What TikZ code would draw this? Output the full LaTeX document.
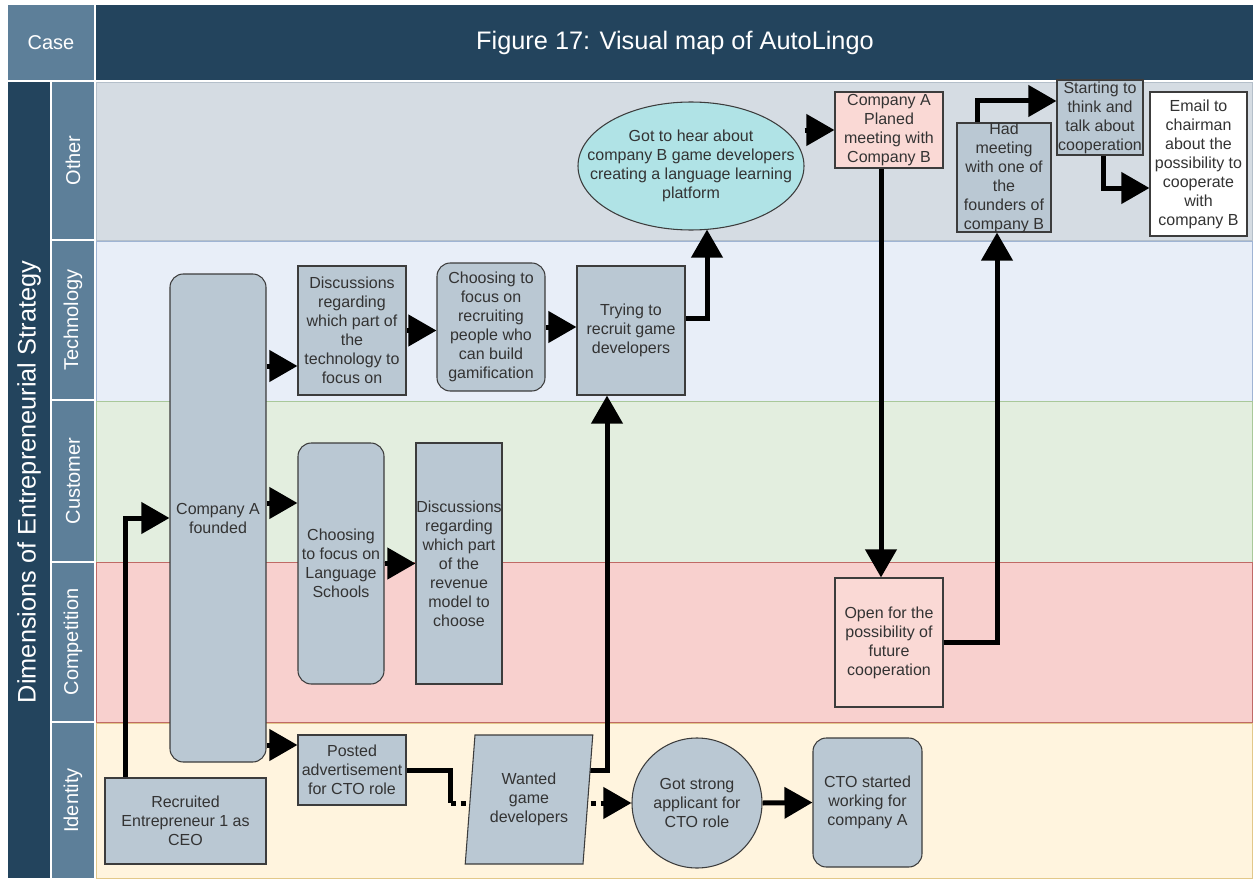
\documentclass[tikz,border=0pt]{standalone}
\usepackage{fontspec}
\setmainfont{Liberation Sans}
\usetikzlibrary{arrows.meta,shapes.geometric}
\pgfdeclarelayer{bg}
\pgfdeclarelayer{edges}
\pgfsetlayers{bg,edges,main}
\newcommand\pxu{0.75pt}
\definecolor{navy}{HTML}{23445D}
\definecolor{steel}{HTML}{5D7F99}
\definecolor{laneO}{HTML}{D5DCE3}
\definecolor{laneOb}{HTML}{B4BFCA}
\definecolor{laneT}{HTML}{E8EEF8}
\definecolor{laneTb}{HTML}{9FB4D4}
\definecolor{laneC}{HTML}{E3EEDF}
\definecolor{laneCb}{HTML}{A9C89A}
\definecolor{laneP}{HTML}{F8D0CE}
\definecolor{lanePb}{HTML}{C06A66}
\definecolor{laneI}{HTML}{FFF4DE}
\definecolor{laneIb}{HTML}{E2C88A}
\definecolor{nodefill}{HTML}{BAC8D3}
\definecolor{cyanfill}{HTML}{B0E3E6}
\definecolor{pinkfill}{HTML}{FAD9D5}
\definecolor{txt}{HTML}{333333}
\definecolor{edgecol}{HTML}{3C3C3C}
\begin{document}
\begin{tikzpicture}[x=0.75pt,y=-0.75pt,
  wh/.style 2 args={minimum width=#1*\pxu, minimum height=#2*\pxu},
  nfont/.style={font=\fontsize{12pt}{14.25pt}\selectfont},
  base/.style={draw=edgecol, line width=0.8pt, text=txt, align=center, inner sep=1pt, nfont},
  sqbox/.style={base, rectangle, fill=nodefill},
  rbox/.style={base, rectangle, rounded corners=10pt, fill=nodefill},
  lbl/.style={text=txt, align=center, inner sep=0pt, nfont},
  lanelbl/.style={text=white, rotate=90, font=\fontsize{15pt}{18pt}\selectfont},
  arr/.style={draw=black, line width=3.75pt, -{Triangle[length=21pt,width=23pt]}},
  ln/.style={draw=black, line width=3.75pt},
]
\begin{pgfonlayer}{bg}
  \fill[white] (0,0) rectangle (1253,881);
  \fill[steel] (8,5) rectangle (94,80);
  \fill[navy] (96,5) rectangle (1253,80);
  \fill[navy] (8,82) rectangle (50,878);
  \fill[steel] (52,82) rectangle (94,239);
  \fill[steel] (52,241) rectangle (94,399);
  \fill[steel] (52,401) rectangle (94,561);
  \fill[steel] (52,563) rectangle (94,721);
  \fill[steel] (52,723) rectangle (94,878);
  \filldraw[fill=laneO, draw=laneOb, line width=0.7pt] (96,82) rectangle (1252,240);
  \filldraw[fill=laneT, draw=laneTb, line width=0.7pt] (96,241) rectangle (1252,401);
  \filldraw[fill=laneC, draw=laneCb, line width=0.7pt] (96,401) rectangle (1252,562);
  \filldraw[fill=laneP, draw=lanePb, line width=0.7pt] (96,562) rectangle (1252,722);
  \filldraw[fill=laneI, draw=laneIb, line width=0.7pt] (96,723) rectangle (1252,878);
\end{pgfonlayer}
\node[text=white, font=\fontsize{15pt}{18pt}\selectfont] (caselbl) at (51,42.5) {Case};
\node[text=white, font=\fontsize{19pt}{22pt}\selectfont] (title) at (675,42.5) {Figure 17: Visual map of AutoLingo};
\node[text=white, rotate=90, font=\fontsize{19pt}{22pt}\selectfont] (dims) at (29,482) {Dimensions of Entrepreneurial Strategy};
\node[lanelbl] (lo) at (73,160.5) {Other};
\node[lanelbl] (lt) at (73,320) {Technology};
\node[lanelbl] (lc) at (73,481) {Customer};
\node[lanelbl] (lp) at (73,642) {Competition};
\node[lanelbl] (li) at (73,800.5) {Identity};

\node[rbox, wh={96}{488}] (compA) at (218,518) {Company A\\founded};
\node[sqbox, wh={161}{86}] (recr) at (185.5,821) {Recruited\\Entrepreneur 1 as\\CEO};
\node[sqbox, wh={108}{129}] (discT) at (352,330.5) {Discussions\\regarding\\which part of\\the\\technology to\\focus on};
\node[rbox, wh={108}{128}] (chooseR) at (491,327) {Choosing to\\focus on\\recruiting\\people who\\can build\\gamification};
\node[sqbox, wh={108}{129}] (trying) at (631,330.5) {Trying to\\recruit game\\developers};
\node[rbox, wh={86}{241}] (chooseLS) at (341,563.5) {Choosing\\to focus on\\Language\\Schools};
\node[sqbox, wh={86}{241}, inner xsep=0pt] (discR) at (459,563.5) {Discussions\\regarding\\which part\\of the\\revenue\\model to\\choose};
\node[sqbox, wh={108}{70}] (posted) at (352,770) {Posted\\advertisement\\for CTO role};
\node[base, trapezium, trapezium left angle=82.5, trapezium right angle=97.5, trapezium stretches=true, fill=nodefill, wh={128}{129}] (wanted) at (529,799.5) {Wanted\\game\\developers};
\node[base, circle, fill=nodefill, minimum size=130*\pxu, inner sep=0pt] (strong) at (697,803) {Got strong\\applicant for\\CTO role};
\node[rbox, wh={109}{129}] (cto) at (867.5,802.5) {CTO started\\working for\\company A};
\node[base, ellipse, fill=cyanfill, wh={226}{128}, inner sep=0pt, label={[lbl]center:Got to hear about\\company B game developers\\creating a language learning\\platform}] (hear) at (691,166) {};
\node[sqbox, fill=pinkfill, wh={108}{76}, inner ysep=0pt] (planned) at (889,130) {Company A\\Planed\\meeting with\\Company B};
\node[sqbox, wh={94}{109}, label={[lbl]center:Had\\meeting\\with one of\\the\\founders of\\company B}] (had) at (1004,177.5) {};
\node[sqbox, wh={86}{75}, inner sep=0.3pt] (start) at (1100,117.5) {Starting to\\think and\\talk about\\cooperation};
\node[sqbox, fill=white, wh={97}{144}] (email) at (1198.5,164) {Email to\\chairman\\about the\\possibility to\\cooperate\\with\\company B};
\node[sqbox, fill=pinkfill, wh={108}{129}] (open) at (889,642.5) {Open for the\\possibility of\\future\\cooperation};

\coordinate (a1) at ([xshift=21*\pxu]recr.north west);
\coordinate (b1) at ([yshift=-35.5*\pxu]discT.west);
\coordinate (c1) at ([yshift=60.5*\pxu]chooseLS.west);
\coordinate (d1) at ([yshift=25*\pxu]posted.west);
\coordinate (h1) at ([xshift=44*\pxu]posted.east);
\coordinate (h2) at (h1 |- strong.west);
\coordinate (i0) at ([yshift=29.5*\pxu]wanted.east);
\coordinate (i1) at ([xshift=-24*\pxu]trying.south);
\coordinate (j0) at ([yshift=12.5*\pxu]trying.east);
\coordinate (j1) at ([xshift=16*\pxu, yshift=1*\pxu]hear.south);
\coordinate (l1) at ([xshift=-8*\pxu]planned.south);
\coordinate (m1) at ([xshift=-7*\pxu]had.south);
\coordinate (n1) at ([xshift=-27*\pxu]had.north);
\coordinate (n2) at ([yshift=16.5*\pxu]start.west);
\coordinate (o0) at ([xshift=3*\pxu]start.south);
\coordinate (o1) at ([yshift=-24*\pxu]email.west);

\begin{pgfonlayer}{edges}
  \draw[arr] (a1) |- (compA.west);
  \draw[arr] (compA.east |- b1) -- (b1);
  \draw[arr] (compA.east |- c1) -- (c1);
  \draw[arr] (compA.east |- d1) -- (d1);
  \draw[arr] (discT.east) -- (discT.east -| chooseR.west);
  \draw[arr] (chooseR.east) -- (chooseR.east -| trying.west);
  \draw[arr] (chooseLS.east) -- (chooseLS.east -| discR.west);
  \draw[ln] (posted.east) -- (h1) -- (h2);
  \draw[arr, dash pattern=on 4pt off 3.5pt] (h2) -- (strong.west);
  \draw[arr] (i0) -| (i1);
  \draw[arr] (j0) -| (j1);
  \draw[arr] (hear.east |- planned.west) -- (planned.west);
  \draw[arr] (l1) -- (l1 |- open.north);
  \draw[arr] (open.east) -| (m1);
  \draw[arr] (n1) |- (n2);
  \draw[arr] (o0) |- (o1);
  \draw[arr] (strong.east) -- (cto.west);
\end{pgfonlayer}
\end{tikzpicture}
\end{document}
